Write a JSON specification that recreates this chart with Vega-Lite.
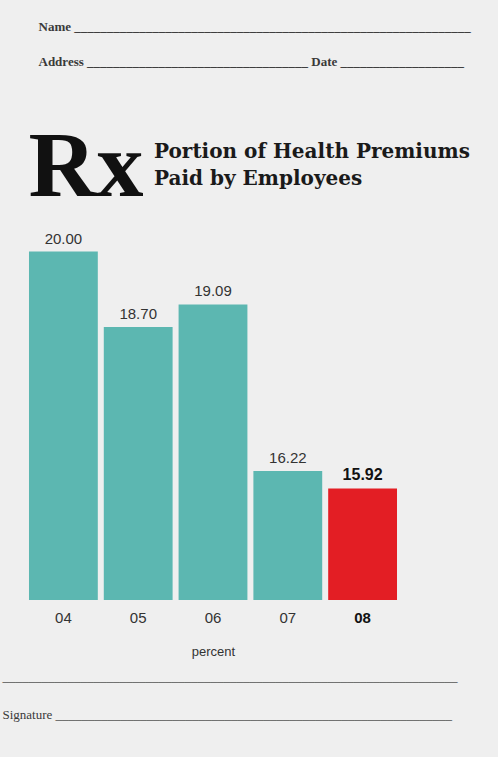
{
  "$schema": "https://vega.github.io/schema/vega-lite/v6.json",
  "width": 374,
  "height": 360,
  "autosize": {"type": "none"},
  "padding": {"left": 26, "top": 240, "right": 98, "bottom": 157},
  "background": "#efefef",
  "title": {
    "text": ["Portion of Health Premiums", "Paid by Employees"],
    "anchor": "start",
    "frame": "group",
    "dx": 128,
    "dy": 179,
    "offset": 10,
    "font": "DejaVu Serif",
    "fontSize": 20,
    "fontWeight": "bold",
    "color": "#1a1a1a",
    "lineHeight": 27
  },
  "data": {
    "values": [
      {"year": "04", "value": 20.00},
      {"year": "05", "value": 18.70},
      {"year": "06", "value": 19.09},
      {"year": "07", "value": 16.22},
      {"year": "08", "value": 15.92}
    ]
  },
  "layer": [
    {
      "mark": {"type": "bar"},
      "encoding": {
        "x": {
          "field": "year",
          "type": "nominal",
          "sort": null,
          "scale": {"paddingInner": 0.08, "paddingOuter": 0.04},
          "axis": {
            "orient": "bottom",
            "domain": false,
            "ticks": false,
            "labelAngle": 0,
            "labelFont": "Liberation Sans",
            "labelFontSize": 15,
            "labelPadding": 10,
            "labelColor": {"expr": "datum.value === '08' ? '#111111' : '#333333'"},
            "labelFontWeight": {"expr": "datum.value === '08' ? 'bold' : 'normal'"},
            "title": "percent",
            "titleFont": "Liberation Sans",
            "titleFontSize": 13,
            "titleFontWeight": "normal",
            "titleColor": "#333333",
            "titlePadding": 20
          }
        },
        "y": {
          "field": "value",
          "type": "quantitative",
          "stack": null,
          "scale": {"domain": [14, 20.2], "zero": false, "nice": false},
          "axis": {
            "orient": "left",
            "labels": false,
            "ticks": false,
            "domain": false,
            "grid": false,
            "title": "Rx",
            "titleFont": "Liberation Serif",
            "titleFontSize": 94,
            "titleFontWeight": "bold",
            "titleColor": "#111111",
            "titleAngle": 0,
            "titleAlign": "left",
            "titleBaseline": "alphabetic",
            "titleX": 2,
            "titleY": -45
          }
        },
        "color": {
          "condition": {"test": "datum.year === '08'", "value": "#e31e24"},
          "value": "#5cb7b1"
        }
      }
    },
    {
      "transform": [{"filter": "datum.year !== '08'"}],
      "mark": {"type": "text", "baseline": "bottom", "dy": -5, "font": "Liberation Sans", "fontSize": 15, "color": "#333333"},
      "encoding": {
        "x": {
          "field": "year",
          "type": "nominal",
          "sort": null,
          "axis": {
            "orient": "top",
            "labels": false,
            "ticks": false,
            "domain": false,
            "title": [
              "Name   _____________________________________________________________",
              "Address  __________________________________  Date  ___________________"
            ],
            "titleFont": "Liberation Serif",
            "titleFontSize": 13,
            "titleFontWeight": "bold",
            "titleColor": "#3a3a3a",
            "titleAlign": "left",
            "titleBaseline": "alphabetic",
            "titleAngle": 0,
            "titleLineHeight": 35,
            "titleX": 12,
            "titleY": -210
          }
        },
        "y": {
          "field": "value",
          "type": "quantitative",
          "stack": null,
          "scale": {"domain": [14, 20.2], "zero": false, "nice": false},
          "axis": {
            "orient": "right",
            "labels": false,
            "ticks": false,
            "domain": false,
            "grid": false,
            "title": [
              "______________________________________________________________________",
              "Signature  _____________________________________________________________"
            ],
            "titleFont": "Liberation Serif",
            "titleFontSize": 13,
            "titleFontWeight": "normal",
            "titleColor": "#3a3a3a",
            "titleAlign": "left",
            "titleBaseline": "alphabetic",
            "titleAngle": 0,
            "titleLineHeight": 38,
            "titleX": -398,
            "titleY": 440
          }
        },
        "text": {"field": "value", "type": "quantitative", "format": ".2f"}
      }
    },
    {
      "transform": [{"filter": "datum.year === '08'"}],
      "mark": {"type": "text", "baseline": "bottom", "dy": -6, "font": "Liberation Sans", "fontSize": 16, "fontWeight": "bold", "color": "#111111"},
      "encoding": {
        "x": {"field": "year", "type": "nominal", "sort": null, "axis": null},
        "y": {"field": "value", "type": "quantitative", "stack": null, "scale": {"domain": [14, 20.2], "zero": false, "nice": false}, "axis": null},
        "text": {"field": "value", "type": "quantitative", "format": ".2f"}
      }
    }
  ],
  "resolve": {"axis": {"x": "independent", "y": "independent"}},
  "config": {"view": {"stroke": null}}
}
